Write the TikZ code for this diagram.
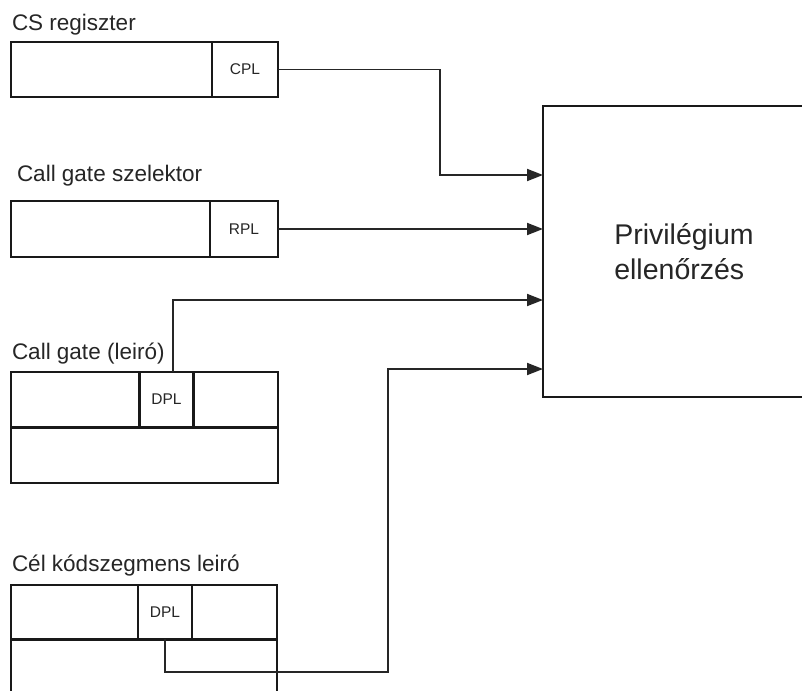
\documentclass[tikz,border=0pt]{standalone}
\usepackage{fontspec}
\setmainfont{Liberation Sans}
\usetikzlibrary{arrows.meta}
\begin{document}
\begin{tikzpicture}[x=1bp,y=-1bp,
  box/.style={draw=black!90, line width=2.1bp, outer sep=0pt, inner sep=0pt,
    font=\fontsize{15.5bp}{18bp}\selectfont, text=black!85},
  midline/.style={draw=black!90, line width=3bp},
  lbl/.style={inner sep=0pt, outer sep=0pt, anchor=base west,
    font=\fontsize{22.5bp}{27bp}\selectfont, text=black!85},
  conn/.style={draw=black!85, line width=1.8bp, -{Triangle[length=16bp,width=12bp]}}]
\clip (0,0) rectangle (802,691);
\fill[white] (0,0) rectangle (802,691);

% CS regiszter
\node[lbl] (tcs) at (12,31) {CS regiszter};
\node[box, minimum width=201bp, minimum height=55bp] (csl) at (111.5,69.5) {};
\node[box, minimum width=66bp, minimum height=55bp] (cpl) at (245,69.5) {CPL};

% Call gate szelektor
\node[lbl] (tsel) at (17,181.5) {Call gate szelektor};
\node[box, minimum width=199bp, minimum height=56bp] (sell) at (110.5,229) {};
\node[box, minimum width=68bp, minimum height=56bp] (rpl) at (244,229) {RPL};

% Call gate (leiro)
\node[lbl] (tgate) at (12,359) {Call gate (leiró)};
\node[box, minimum width=128.5bp, minimum height=55bp] (g1) at (75.25,399.5) {};
\node[box, minimum width=54bp, minimum height=55bp] (dpl1) at (166.5,399.5) {DPL};
\node[box, minimum width=84.5bp, minimum height=55bp] (g3) at (235.75,399.5) {};
\node[box, minimum width=267bp, minimum height=56bp] (g4) at (144.5,455) {};
\draw[midline] (g4.north west) -- (g4.north east);

% Cel kodszegmens leiro
\node[lbl] (tcel) at (12,571.5) {Cél kódszegmens leiró};
\node[box, minimum width=127bp, minimum height=54bp] (c1) at (74.5,612) {};
\node[box, minimum width=54bp, minimum height=54bp] (dpl2) at (165,612) {DPL};
\node[box, minimum width=85bp, minimum height=54bp] (c3) at (234.5,612) {};
\node[box, minimum width=266bp, minimum height=81bp] (c4) at (144,679.5) {};
\draw[midline] (c4.north west) -- (c4.north east);

% Privilegium ellenorzes
\node[box, minimum width=282bp, minimum height=291bp, align=left,
  font=\fontsize{28.5bp}{35bp}\selectfont] (check) at (684,251.5)
  {Privilégium\\ellenőrzés};

% connectors
\coordinate (k1) at (440,175);
\draw[conn] (cpl.east) -| (k1) -- (check.west |- k1);
\draw[conn] (rpl.east) -- (check.west |- rpl.east);
\coordinate (k3) at (173,300);
\draw[conn] (dpl1.north -| k3) |- (check.west |- k3);
\coordinate (k4) at (388,672);
\coordinate (k5) at (388,369);
\draw[conn] (dpl2.south) |- (k4) -- (k5) -- (check.west |- k5);
\end{tikzpicture}
\end{document}
